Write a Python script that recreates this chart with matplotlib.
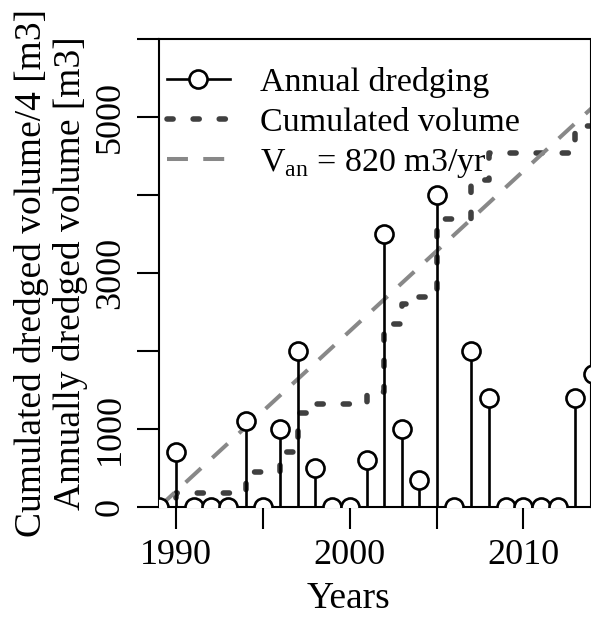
import matplotlib
matplotlib.use("Agg")
import matplotlib.pyplot as plt
import numpy as np
from matplotlib.lines import Line2D

# data
years = np.arange(1989, 2015)
annual = np.array([0, 700, 0, 0, 0, 1100, 0, 1000, 2000, 500, 0, 0, 600,
                   3500, 1000, 350, 4000, 0, 2000, 1400, 0, 0, 0, 0, 1400, 1700])
van = 820  # m3/yr

cum4 = np.cumsum(annual) / 4
van_x = years[[0, -1]]
van_y = van * (van_x - years[0]) / 4

plt.rcParams['font.family'] = ['Liberation Serif', 'DejaVu Serif']
plt.rcParams['mathtext.fontset'] = 'custom'
plt.rcParams['mathtext.rm'] = 'Liberation Serif'

fig = plt.figure(figsize=(5.91, 6.17), dpi=100)
ax = fig.add_axes([159/591, 110/617, 431/591, 468/617])

# annual dredging: stems + open circles
ax.vlines(years, 0, annual, color='black', lw=1.9, zorder=3)
ax.plot(years, annual, 'o', ms=13, mfc='white', mec='black', mew=1.9, zorder=4)

# cumulated volume / 4
dot = dict(color='#404040', lw=4, dashes=(1.1, 3.6), dash_capstyle='round')
ax.plot(years, cum4, drawstyle='steps-post', zorder=2, **dot)

# mean annual rate
dash = dict(color='#888888', lw=2.9, dashes=(5.2, 3.8))
ax.plot(van_x, van_y, zorder=2, **dash)

ax.set_xlim(1989, 2013.85)
ax.set_ylim(0, 6000)

ax.set_xticks([1990, 1995, 2000, 2005, 2010])
ax.set_xticklabels(['1990', '', '2000', '', '2010'])
ax.set_yticks([0, 1000, 2000, 3000, 4000, 5000, 6000])
ax.set_yticklabels(['0', '1000', '', '3000', '', '5000', ''], rotation=90, va='center')
ax.tick_params(length=16, width=1.5, pad=7, labelsize=26, direction='out')
for s in ax.spines.values():
    s.set_linewidth(1.5)
ax.spines['right'].set_linewidth(0.8)

ax.set_xlabel('Years', fontsize=27)
ax.xaxis.set_label_coords(0.44, -0.16)
ax.set_ylabel('Cumulated dredged volume/4 [m3]\nAnnually dredged volume [m3]',
              fontsize=27, linespacing=1.15)

handles = [
    Line2D([], [], color='black', lw=1.9, marker='o', ms=13, mfc='white', mew=1.9),
    Line2D([], [], **dot),
    Line2D([], [], **dash),
]
labels = ['Annual dredging', 'Cumulated volume', r'V$_{\mathrm{an}}$ = 820 m3/yr']
ax.legend(handles, labels, loc='upper left', bbox_to_anchor=(0.0186, 0.9405),
          frameon=False, fontsize=24.5, handlelength=1.85, handletextpad=0.88,
          labelspacing=0.27, borderaxespad=0, borderpad=0)

fig.savefig('out.png', dpi=100)
